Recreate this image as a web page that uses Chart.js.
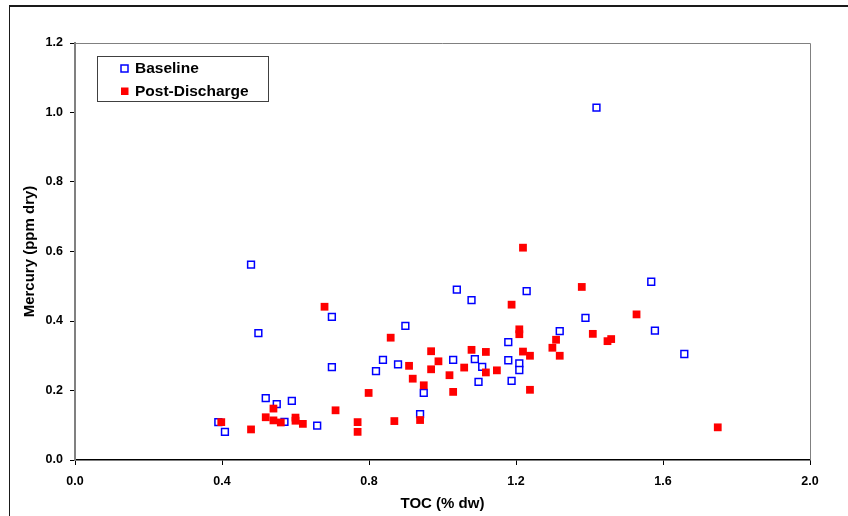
<!DOCTYPE html>
<html>
<head>
<meta charset="utf-8">
<script src="https://cdn.jsdelivr.net/npm/chart.js@4.4.1/dist/chart.umd.min.js"></script>
<style>
  html, body { margin: 0; padding: 0; background: #fff; }
  #wrap { width: 848px; height: 516px; position: relative; }
</style>
</head>
<body>
<div id="wrap"><canvas id="scatter" width="848" height="516"></canvas></div>
<script>
// values
const baselineToc = [0.390, 0.408, 0.479, 0.499, 0.519, 0.549, 0.570, 0.590, 0.659, 0.699, 0.699,
    0.819, 0.838, 0.879, 0.899, 0.939, 0.949, 1.029, 1.039, 1.079, 1.088, 1.098, 1.108,
    1.179, 1.179, 1.188, 1.209, 1.209, 1.229, 1.319, 1.389, 1.419, 1.568, 1.578, 1.658];
const baselineHg = [0.109, 0.081, 0.562, 0.365, 0.178, 0.161, 0.110, 0.170, 0.099, 0.412, 0.267,
    0.256, 0.288, 0.275, 0.386, 0.132, 0.193, 0.288, 0.490, 0.460, 0.290, 0.225, 0.268,
    0.339, 0.287, 0.228, 0.278, 0.259, 0.486, 0.371, 0.409, 1.014, 0.513, 0.372, 0.305];

const postToc = [0.398, 0.479, 0.519, 0.540, 0.540, 0.560, 0.600, 0.600, 0.620, 0.679, 0.709,
    0.769, 0.769, 0.799, 0.859, 0.869, 0.909, 0.919, 0.939, 0.949, 0.969, 0.969, 0.989,
    1.019, 1.029, 1.059, 1.079, 1.118, 1.118, 1.148, 1.188, 1.209, 1.209, 1.219, 1.219,
    1.238, 1.238, 1.299, 1.309, 1.319, 1.379, 1.409, 1.449, 1.459, 1.528, 1.749];
const postHg = [0.109, 0.088, 0.123, 0.148, 0.114, 0.108, 0.122, 0.113, 0.104, 0.441, 0.143,
    0.109, 0.081, 0.193, 0.352, 0.112, 0.271, 0.234, 0.115, 0.215, 0.313, 0.261, 0.284,
    0.244, 0.196, 0.266, 0.317, 0.311, 0.252, 0.258, 0.447, 0.376, 0.362, 0.611, 0.312,
    0.300, 0.202, 0.323, 0.346, 0.300, 0.498, 0.363, 0.342, 0.348, 0.419, 0.094];

const xTicks = [0.0, 0.4, 0.8, 1.2, 1.6, 2.0];
const yTicks = [0.0, 0.2, 0.4, 0.6, 0.8, 1.0, 1.2];
const seriesNames = ['Baseline', 'Post-Discharge'];

const FONT = "'Liberation Sans', Arial, Helvetica, sans-serif";

function toPoints(xs, ys) {
    return xs.map((x, i) => ({ x: x, y: ys[i] }));
}

// frame lines, plot border and the in-plot legend
const framePlugin = {
    id: 'frame',
    beforeDraw(chart) {
        const ctx = chart.ctx;
        ctx.save();
        ctx.fillStyle = '#fff';
        ctx.fillRect(0, 0, chart.width, chart.height);
        ctx.fillStyle = '#1a1a1a';
        ctx.fillRect(9, 5, chart.width - 9, 2);
        ctx.fillRect(9, 5, 1, chart.height - 5);
        ctx.restore();
    },
    afterDatasetsDraw(chart) {
        const ctx = chart.ctx;
        const a = chart.chartArea;
        ctx.save();
        ctx.strokeStyle = '#808080';
        ctx.lineWidth = 1;
        ctx.beginPath();
        ctx.moveTo(a.left, a.top + 0.5);
        ctx.lineTo(a.right + 0.5, a.top + 0.5);
        ctx.lineTo(a.right + 0.5, a.bottom);
        ctx.stroke();

        // legend box
        ctx.fillStyle = '#fff';
        ctx.fillRect(97.5, 56.5, 171, 45);
        ctx.strokeStyle = '#404040';
        ctx.strokeRect(97.5, 56.5, 171, 45);
        const rows = [68.5, 91];
        chart.data.datasets.forEach((ds, i) => {
            const cy = rows[seriesNames.indexOf(ds.label)];
            if (ds.label === 'Baseline') {
                ctx.strokeStyle = ds.borderColor;
                ctx.lineWidth = 1.5;
                ctx.strokeRect(121, cy - 3.5, 7, 7);
            } else {
                ctx.fillStyle = ds.backgroundColor;
                ctx.fillRect(121, cy - 3.5, 7.5, 7.5);
            }
            ctx.fillStyle = '#000';
            ctx.font = 'bold 15.5px ' + FONT;
            ctx.textBaseline = 'middle';
            ctx.fillText(ds.label, 135, cy + 0.5);
        });
        ctx.restore();
    }
};

const ctx = document.getElementById('scatter');
new Chart(ctx, {
    type: 'scatter',
    data: {
        datasets: [
            {
                label: seriesNames[1],
                data: toPoints(postToc, postHg),
                pointStyle: 'rect',
                pointRadius: 5.5,
                pointBorderWidth: 0,
                backgroundColor: '#ff0000',
                borderColor: '#ff0000',
                order: 0
            },
            {
                label: seriesNames[0],
                data: toPoints(baselineToc, baselineHg),
                pointStyle: 'rect',
                pointRadius: 4.8,
                pointBorderWidth: 1.5,
                backgroundColor: '#ffffff',
                borderColor: '#0000ff',
                order: 1
            }
        ]
    },
    options: {
        responsive: false,
        animation: false,
        maintainAspectRatio: false,
        layout: { padding: { left: 0, top: 43, right: 38, bottom: 0 } },
        plugins: {
            legend: { display: false },
            tooltip: { enabled: false }
        },
        scales: {
            x: {
                type: 'linear',
                min: 0,
                max: 2.0,
                afterFit: scale => { scale.height = 56; },
                afterBuildTicks: scale => { scale.ticks = xTicks.map(v => ({ value: v })); },
                ticks: {
                    padding: 9,
                    color: '#000',
                    font: { family: FONT, size: 12.5, weight: 'bold' },
                    callback: v => Number(v).toFixed(1)
                },
                grid: { drawOnChartArea: false, drawTicks: true, tickLength: 5, color: '#000' },
                border: { color: '#000', width: 1.5 },
                title: {
                    display: true,
                    text: 'TOC (% dw)',
                    color: '#000',
                    padding: { top: 0, bottom: 3 },
                    font: { family: FONT, size: 15, weight: 'bold' }
                }
            },
            y: {
                type: 'linear',
                min: 0,
                max: 1.2,
                afterFit: scale => { scale.width = 75; },
                afterBuildTicks: scale => { scale.ticks = yTicks.map(v => ({ value: v })); },
                ticks: {
                    padding: 7,
                    color: '#000',
                    font: { family: FONT, size: 12.5, weight: 'bold' },
                    callback: v => Number(v).toFixed(1)
                },
                grid: { drawOnChartArea: false, drawTicks: true, tickLength: 5, color: '#000' },
                border: { color: '#808080', width: 2 },
                title: {
                    display: true,
                    text: 'Mercury (ppm dry)',
                    color: '#000',
                    padding: { top: 21, bottom: 0 },
                    font: { family: FONT, size: 15, weight: 'bold' }
                }
            }
        }
    },
    plugins: [framePlugin]
});
</script>
</body>
</html>
